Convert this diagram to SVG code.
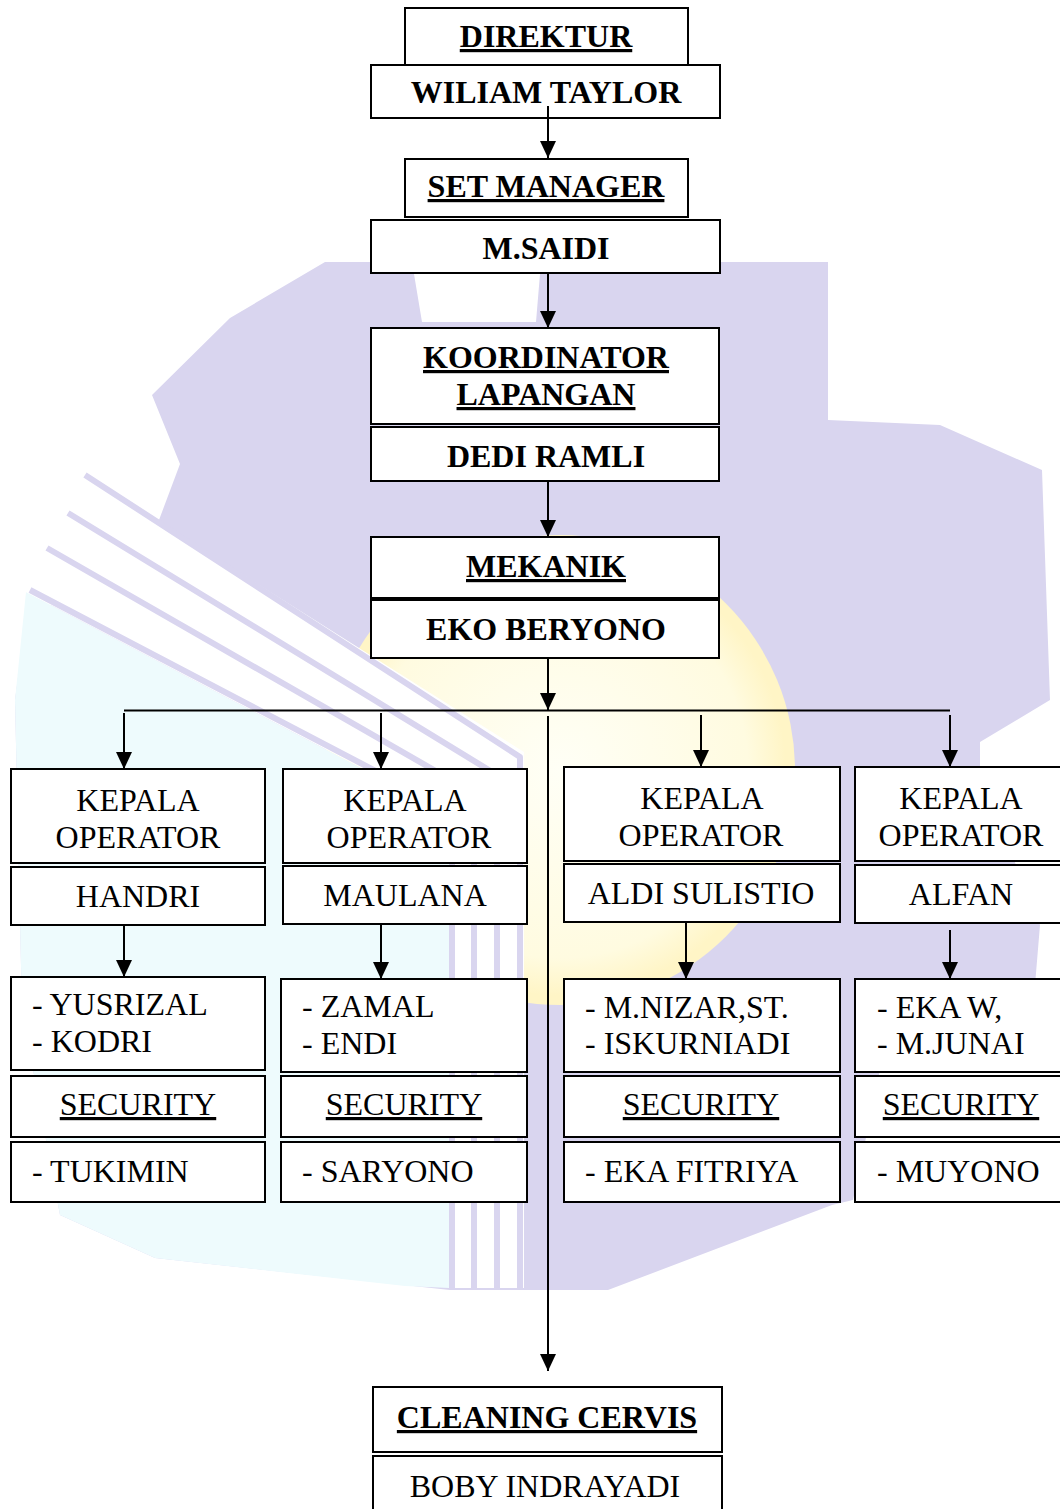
<svg xmlns="http://www.w3.org/2000/svg" width="1060" height="1509" viewBox="0 0 1060 1509">
<defs>
<style>
.box{fill:#fff;stroke:#000;stroke-width:2}
.b{font-weight:bold;font-size:32px;text-anchor:middle;fill:#000}
.r{font-size:32px;fill:#000}
.c{text-anchor:middle}
.u{text-decoration:underline}
.ln{stroke:#000;stroke-width:2;fill:none}
.ar{stroke:#000;stroke-width:2;fill:none;marker-end:url(#ah)}
.st{stroke:#d9d5ef;stroke-width:6;fill:none;stroke-linejoin:round}
</style>
<marker id="ah" viewBox="0 0 17 16" refX="17" refY="8" markerWidth="17" markerHeight="16" markerUnits="userSpaceOnUse" orient="auto">
<path d="M0,0 L17,8 L0,16 Z" fill="#000"/>
</marker>
<radialGradient id="yg" cx="0.5" cy="0.5" r="0.5">
<stop offset="0" stop-color="#fffff6"/>
<stop offset="0.8" stop-color="#fffbe0"/>
<stop offset="0.96" stop-color="#fff5c6"/>
<stop offset="1" stop-color="#fff5c6"/>
</radialGradient>
</defs>
<rect width="1060" height="1509" fill="#fff"/>
<g id="watermark">
<path fill="#d9d5ef" d="M325,262 L412,262 L422,322 L536,322 L541,262 L828,262 L828,420 L940,425 L1042,470 L1050,700 L980,742 L980,775 L1040,925 L1035,985 L880,1070 L853,1200 L832,1205 L608,1290 L450,1290 L155,1258 L60,1215 L22,1010 L15,700 L25,625 L159,520 L180,464 L152,395 L230,318 Z"/>
<circle cx="560" cy="770" r="235" fill="url(#yg)"/>
<path fill="#eefbfd" d="M26,592 L449,814 L449,1288 L405,1286 L155,1258 L60,1215 L22,1010 L15,700 Z"/>
<path fill="#fff" d="M85,475 L524,752 L524,1288 L449,1288 L449,814 L26,592 Z"/>
<polyline class="st" points="85,475 520,757 520,1288"/>
<polyline class="st" points="68,513 497,775 497,1288"/>
<polyline class="st" points="47,548 474,793 474,1288"/>
<polyline class="st" points="30,590 452,811 452,1288"/>
</g>
<g id="connectors">
<line class="ar" x1="548" y1="106" x2="548" y2="158"/>
<line class="ar" x1="548" y1="273" x2="548" y2="328"/>
<line class="ar" x1="548" y1="481" x2="548" y2="537"/>
<line class="ar" x1="548" y1="658" x2="548" y2="710"/>
<line class="ln" x1="124" y1="710.5" x2="950" y2="710.5"/>
<line class="ar" x1="548" y1="716" x2="548" y2="1371"/>
<line class="ar" x1="124" y1="713" x2="124" y2="769"/>
<line class="ar" x1="381" y1="713" x2="381" y2="769"/>
<line class="ar" x1="701" y1="715" x2="701" y2="767"/>
<line class="ar" x1="950" y1="715" x2="950" y2="767"/>
<line class="ar" x1="124" y1="925" x2="124" y2="977"/>
<line class="ar" x1="381" y1="924" x2="381" y2="979"/>
<line class="ar" x1="686" y1="922" x2="686" y2="979"/>
<line class="ar" x1="950" y1="930" x2="950" y2="979"/>
</g>
<g font-family="Liberation Serif, serif">
<g id="direktur">
<rect class="box" x="405" y="8" width="283" height="57"/>
<text class="b u" x="546" y="47" font-family="Liberation Serif">DIREKTUR</text>
</g>
<g id="wiliam-taylor">
<rect class="box" x="371" y="65" width="349" height="53"/>
<text class="b" x="546" y="103" font-family="Liberation Serif">WILIAM TAYLOR</text>
</g>
<line class="ln" x1="548" y1="106" x2="548" y2="118"/>
<g id="set-manager">
<rect class="box" x="405" y="159" width="283" height="58"/>
<text class="b u" x="546" y="197" font-family="Liberation Serif">SET MANAGER</text>
</g>
<g id="m-saidi">
<rect class="box" x="371" y="220" width="349" height="53"/>
<text class="b" x="546" y="259" font-family="Liberation Serif">M.SAIDI</text>
</g>
<g id="koordinator">
<rect class="box" x="371" y="328" width="348" height="96"/>
<text class="b u" x="546" y="368" font-family="Liberation Serif">KOORDINATOR</text>
<text class="b u" x="546" y="405" font-family="Liberation Serif">LAPANGAN</text>
</g>
<g id="dedi-ramli">
<rect class="box" x="371" y="427" width="348" height="54"/>
<text class="b" x="546" y="467" font-family="Liberation Serif">DEDI RAMLI</text>
</g>
<g id="mekanik">
<rect class="box" x="371" y="537" width="348" height="61"/>
<text class="b u" x="546" y="577" font-family="Liberation Serif">MEKANIK</text>
</g>
<g id="eko-beryono">
<rect class="box" x="371" y="600" width="348" height="58"/>
<text class="b" x="546" y="640" font-family="Liberation Serif">EKO BERYONO</text>
</g>
<g id="col1">
<rect class="box" x="11" y="769" width="254" height="94"/>
<text class="r c" x="138" y="811" font-family="Liberation Serif">KEPALA</text>
<text class="r c" x="138" y="848" font-family="Liberation Serif">OPERATOR</text>
<rect class="box" x="11" y="867" width="254" height="58"/>
<text class="r c" x="138" y="907" font-family="Liberation Serif">HANDRI</text>
<rect class="box" x="11" y="977" width="254" height="93"/>
<text class="r" x="32" y="1015" font-family="Liberation Serif">- YUSRIZAL</text>
<text class="r" x="32" y="1052" font-family="Liberation Serif">- KODRI</text>
<rect class="box" x="11" y="1076" width="254" height="61"/>
<text class="r c u" x="138" y="1115" font-family="Liberation Serif">SECURITY</text>
<rect class="box" x="11" y="1142" width="254" height="60"/>
<text class="r" x="32" y="1182" font-family="Liberation Serif">- TUKIMIN</text>
</g>
<g id="col2">
<rect class="box" x="283" y="769" width="244" height="94"/>
<text class="r c" x="405" y="811" font-family="Liberation Serif">KEPALA</text>
<text class="r c" x="409" y="848" font-family="Liberation Serif">OPERATOR</text>
<rect class="box" x="283" y="866" width="244" height="58"/>
<text class="r c" x="405" y="906" font-family="Liberation Serif">MAULANA</text>
<rect class="box" x="281" y="979" width="246" height="93"/>
<text class="r" x="302" y="1017" font-family="Liberation Serif">- ZAMAL</text>
<text class="r" x="302" y="1054" font-family="Liberation Serif">- ENDI</text>
<rect class="box" x="281" y="1076" width="246" height="61"/>
<text class="r c u" x="404" y="1115" font-family="Liberation Serif">SECURITY</text>
<rect class="box" x="281" y="1142" width="246" height="60"/>
<text class="r" x="302" y="1182" font-family="Liberation Serif">- SARYONO</text>
</g>
<g id="col3">
<rect class="box" x="564" y="767" width="276" height="94"/>
<text class="r c" x="702" y="809" font-family="Liberation Serif">KEPALA</text>
<text class="r c" x="701" y="846" font-family="Liberation Serif">OPERATOR</text>
<rect class="box" x="564" y="864" width="276" height="58"/>
<text class="r c" x="701" y="904" font-family="Liberation Serif">ALDI SULISTIO</text>
<rect class="box" x="564" y="979" width="276" height="93"/>
<text class="r" x="585" y="1018" font-family="Liberation Serif">- M.NIZAR,ST.</text>
<text class="r" x="585" y="1054" font-family="Liberation Serif">- ISKURNIADI</text>
<rect class="box" x="564" y="1076" width="276" height="61"/>
<text class="r c u" x="701" y="1115" font-family="Liberation Serif">SECURITY</text>
<rect class="box" x="564" y="1142" width="276" height="60"/>
<text class="r" x="585" y="1182" font-family="Liberation Serif">- EKA FITRIYA</text>
</g>
<g id="col4">
<rect class="box" x="855" y="767" width="212" height="94"/>
<text class="r c" x="961" y="809" font-family="Liberation Serif">KEPALA</text>
<text class="r c" x="961" y="846" font-family="Liberation Serif">OPERATOR</text>
<rect class="box" x="855" y="865" width="212" height="58"/>
<text class="r c" x="961" y="905" font-family="Liberation Serif">ALFAN</text>
<rect class="box" x="855" y="979" width="212" height="93"/>
<text class="r" x="877" y="1018" font-family="Liberation Serif">- EKA W,</text>
<text class="r" x="877" y="1054" font-family="Liberation Serif">- M.JUNAI</text>
<rect class="box" x="855" y="1076" width="212" height="61"/>
<text class="r c u" x="961" y="1115" font-family="Liberation Serif">SECURITY</text>
<rect class="box" x="855" y="1142" width="212" height="60"/>
<text class="r" x="877" y="1182" font-family="Liberation Serif">- MUYONO</text>
</g>
<g id="cleaning-cervis">
<rect class="box" x="373" y="1387" width="349" height="65"/>
<text class="b u" x="547" y="1428" font-family="Liberation Serif">CLEANING CERVIS</text>
</g>
<g id="boby-indrayadi">
<rect class="box" x="373" y="1456" width="349" height="60"/>
<text class="r c" x="545" y="1497" font-family="Liberation Serif">BOBY INDRAYADI</text>
</g>
</g>
</svg>
